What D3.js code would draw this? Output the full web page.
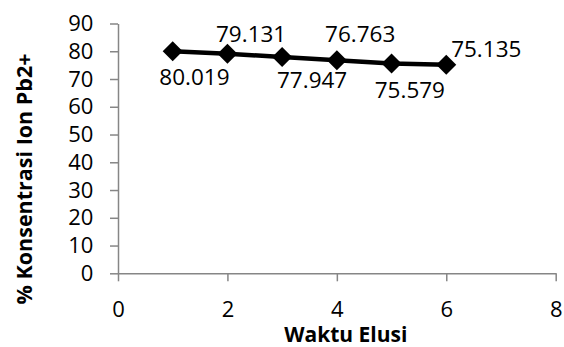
<!DOCTYPE html>
<html><head><meta charset="utf-8">
<script src="https://cdn.jsdelivr.net/npm/d3@7"></script>
<style>body{margin:0;background:#fff}</style></head>
<body>
<svg id="c" width="564" height="347"></svg>
<script>
// Data
const waktu = [1, 2, 3, 4, 5, 6];
const konsentrasi = [80.019, 79.131, 77.947, 76.763, 75.579, 75.135];
const dataLabels = ["80.019", "79.131", "77.947", "76.763", "75.579", "75.135"];
const xTicks = [0, 2, 4, 6, 8];
const yTicks = [0, 10, 20, 30, 40, 50, 60, 70, 80, 90];
const xTitle = "Waktu Elusi";
const yTitle = "% Konsentrasi Ion Pb2+";

// Layout (label placement relative to each point)
const labelOffsets = [[21.7, 33.3], [23.7, -12], [30, 31.4], [23.3, -18.5], [18.3, 34.8], [40, -8]];
const FONT = "'Open Sans', 'Liberation Sans', sans-serif";

const svg = d3.select("#c");
const x = d3.scaleLinear().domain([0, 8]).range([118, 555.7]);
const y = d3.scaleLinear().domain([0, 90]).range([273.3, 23.5]);
const axisColor = "#868686";

const gx = svg.append("g").attr("transform", `translate(0,${y(0)})`)
  .call(d3.axisBottom(x).tickValues(xTicks).tickSize(8).tickSizeOuter(0).tickPadding(20).tickFormat(d3.format("d")));
const gy = svg.append("g").attr("transform", `translate(${x(0)},0)`)
  .call(d3.axisLeft(y).tickValues(yTicks).tickSize(8).tickSizeOuter(0).tickPadding(16.7).tickFormat(d3.format("d")));
[gx, gy].forEach(g => {
  g.select(".domain").attr("stroke", axisColor).attr("stroke-width", 1.5);
  g.selectAll(".tick line").attr("stroke", axisColor).attr("stroke-width", 1.5);
  g.selectAll(".tick text").attr("fill", "#000").style("font-family", FONT).style("font-size", "22px");
});

const pts = waktu.map((w, i) => ({x: w, y: konsentrasi[i], label: dataLabels[i], off: labelOffsets[i]}));

svg.append("path").datum(pts)
  .attr("fill", "none").attr("stroke", "#000").attr("stroke-width", 4.5).attr("stroke-linejoin", "round")
  .attr("d", d3.line().x(d => x(d.x)).y(d => y(d.y)));

svg.selectAll("path.mk").data(pts).join("path").attr("class", "mk")
  .attr("d", d3.symbol().type(d3.symbolSquare).size(200))
  .attr("transform", d => `translate(${x(d.x)},${y(d.y)}) rotate(45)`)
  .attr("fill", "#000");

svg.selectAll("text.dl").data(pts).join("text").attr("class", "dl")
  .attr("x", d => x(d.x) + d.off[0]).attr("y", d => y(d.y) + d.off[1])
  .attr("text-anchor", "middle")
  .style("font-family", FONT).style("font-size", "22.5px").attr("fill", "#000")
  .text(d => d.label);

svg.append("text").attr("x", 345.8).attr("y", 342).attr("text-anchor", "middle")
  .style("font-family", FONT).style("font-size", "21px").style("font-weight", "bold")
  .text(xTitle);

svg.append("text").attr("transform", `translate(31.5,179) rotate(-90)`).attr("text-anchor", "middle")
  .style("font-family", FONT).style("font-size", "21.5px").style("font-weight", "bold")
  .text(yTitle);
</script>
</body></html>
